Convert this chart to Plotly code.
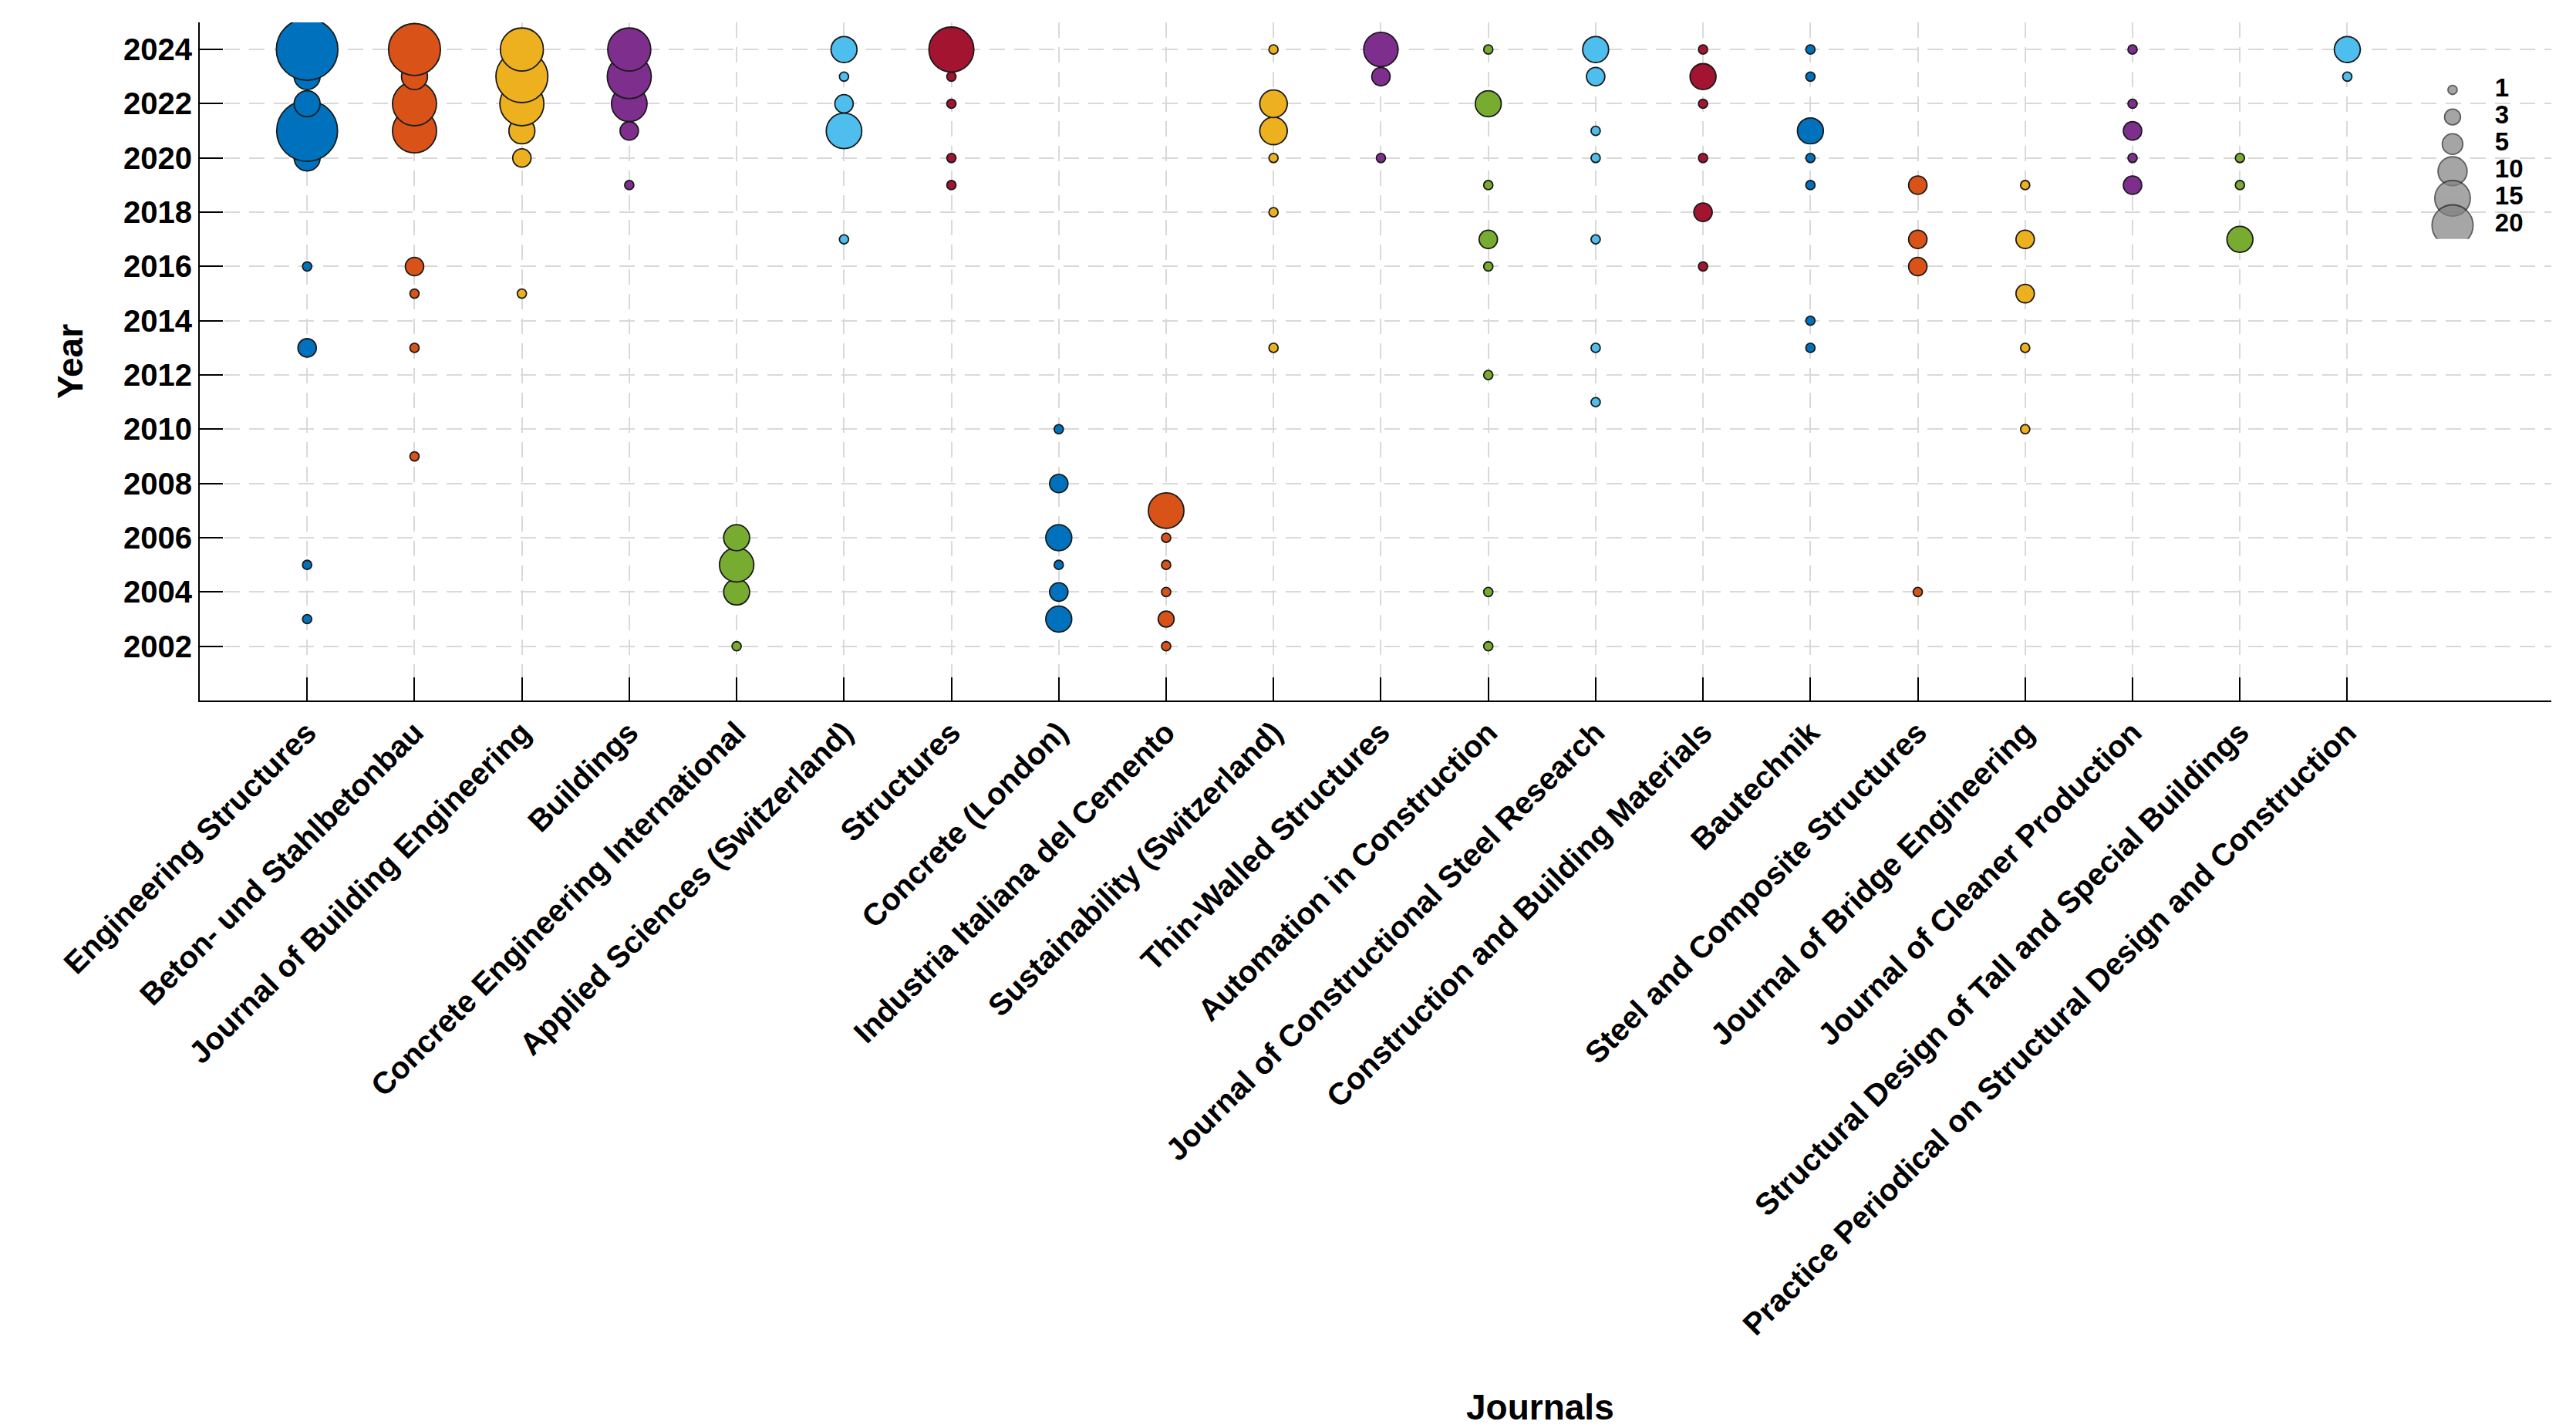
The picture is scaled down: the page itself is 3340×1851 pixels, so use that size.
import plotly.graph_objects as go

# Journale (x-Achse)
journals = [
    "Engineering Structures",
    "Beton- und Stahlbetonbau",
    "Journal of Building Engineering",
    "Buildings",
    "Concrete Engineering International",
    "Applied Sciences (Switzerland)",
    "Structures",
    "Concrete (London)",
    "Industria Italiana del Cemento",
    "Sustainability (Switzerland)",
    "Thin-Walled Structures",
    "Automation in Construction",
    "Journal of Constructional Steel Research",
    "Construction and Building Materials",
    "Bautechnik",
    "Steel and Composite Structures",
    "Journal of Bridge Engineering",
    "Journal of Cleaner Production",
    "Structural Design of Tall and Special Buildings",
    "Practice Periodical on Structural Design and Construction",
]

# Jahre und Anzahl Publikationen pro Journal
years = [
    [2003, 2005, 2013, 2016, 2020, 2021, 2022, 2023, 2024],
    [2009, 2013, 2015, 2016, 2021, 2022, 2023, 2024],
    [2015, 2020, 2021, 2022, 2023, 2024],
    [2019, 2021, 2022, 2023, 2024],
    [2002, 2004, 2005, 2006],
    [2017, 2021, 2022, 2023, 2024],
    [2019, 2020, 2022, 2023, 2024],
    [2003, 2004, 2005, 2006, 2008, 2010],
    [2002, 2003, 2004, 2005, 2006, 2007],
    [2013, 2018, 2020, 2021, 2022, 2024],
    [2020, 2023, 2024],
    [2002, 2004, 2012, 2016, 2017, 2019, 2022, 2024],
    [2011, 2013, 2017, 2020, 2021, 2023, 2024],
    [2016, 2018, 2020, 2022, 2023, 2024],
    [2013, 2014, 2019, 2020, 2021, 2023, 2024],
    [2004, 2016, 2017, 2019],
    [2010, 2013, 2015, 2017, 2019],
    [2019, 2020, 2021, 2022, 2024],
    [2017, 2019, 2020],
    [2023, 2024],
]
counts = [
    [1, 1, 4, 1, 8, 44, 8, 8, 45],
    [1, 1, 1, 4, 23, 23, 8, 32],
    [1, 4, 8, 23, 32, 22],
    [1, 4, 15, 23, 22],
    [1, 8, 14, 8],
    [1, 15, 4, 1, 8],
    [1, 1, 1, 1, 24],
    [8, 4, 1, 8, 4, 1],
    [1, 3, 1, 1, 1, 15],
    [1, 1, 1, 9, 9, 1],
    [1, 4, 14],
    [1, 1, 1, 1, 4, 1, 8, 1],
    [1, 1, 1, 1, 1, 4, 8],
    [1, 4, 1, 1, 8, 1],
    [1, 1, 1, 1, 8, 1, 1],
    [1, 4, 4, 4],
    [1, 1, 4, 4, 1],
    [4, 1, 4, 1, 1],
    [8, 1, 1],
    [1, 8],
]

colors = ["#0072BD", "#D95319", "#EDB120", "#7E2F8E", "#77AC30", "#4DBEEE", "#A2142F"]
legend_sizes = [1, 3, 5, 10, 15, 20]
year_ticks = list(range(2002, 2025, 2))

font = "Liberation Sans"
# Flaeche ~ Anzahl, Durchmesser ~ 11.9 * sqrt(n) px
sizeref = 2.0 / 11.9 ** 2

fig = go.Figure()

for i, name in enumerate(journals):
    fig.add_trace(go.Scatter(
        x=[name] * len(years[i]),
        y=years[i],
        mode="markers",
        name=name,
        marker=dict(
            size=counts[i],
            sizemode="area",
            sizeref=sizeref,
            color=colors[i % len(colors)],
            opacity=1,
            line=dict(color="#1a1a1a", width=1.8),
        ),
        showlegend=False,
    ))

# Groessenlegende (eigene Achsen rechts oben)
legend_labels = [str(s) for s in legend_sizes]
fig.add_trace(go.Scatter(
    x=[0.3] * len(legend_sizes),
    y=legend_labels,
    xaxis="x2",
    yaxis="y2",
    mode="markers",
    marker=dict(size=legend_sizes, sizemode="area", sizeref=sizeref,
                color="#808080", line=dict(color="#1a1a1a", width=1.8)),
    showlegend=False,
    hoverinfo="skip",
))
fig.add_trace(go.Scatter(
    x=[0.6] * len(legend_sizes),
    y=legend_labels,
    xaxis="x2",
    yaxis="y2",
    mode="text",
    text=legend_labels,
    textposition="middle right",
    textfont=dict(family=font, size=33, color="black", weight="bold"),
    showlegend=False,
    hoverinfo="skip",
))

grid = dict(showgrid=True, gridcolor="#d9d9d9", gridwidth=2, griddash="20px,12px")

fig.update_layout(
    width=3340,
    height=1851,
    margin=dict(l=251, r=40, t=21, b=951),
    plot_bgcolor="rgba(0,0,0,0)",
    paper_bgcolor="white",
    font=dict(family=font, color="black"),
    xaxis=dict(
        type="category",
        categoryorder="array",
        categoryarray=journals,
        range=[-1, 20.9],
        tickangle=-45,
        tickfont=dict(size=40, weight="bold"),
        ticks="inside",
        ticklen=30,
        tickwidth=2,
        tickcolor="black",
        showline=True,
        linecolor="black",
        linewidth=2,
        zeroline=False,
        **grid,
    ),
    yaxis=dict(
        range=[2000, 2025],
        tickvals=year_ticks,
        tickfont=dict(size=40, weight="bold"),
        ticks="inside",
        ticklen=30,
        tickwidth=2,
        tickcolor="black",
        showline=True,
        linecolor="black",
        linewidth=2,
        zeroline=False,
        title=dict(text="Year", font=dict(size=46, weight="bold"), standoff=38),
        **grid,
    ),
    xaxis2=dict(domain=[0.94, 1.0], range=[0, 1], anchor="y2", visible=False),
    yaxis2=dict(domain=[0.6807, 0.9204], type="category", range=[5.5, -0.5],
                anchor="x2", visible=False),
    annotations=[dict(
        text="Journals",
        xref="paper", yref="paper",
        x=0.570, y=-1.042,
        xanchor="center", yanchor="middle",
        showarrow=False,
        font=dict(family=font, size=46, color="black", weight="bold"),
    )],
)

fig.write_html("out.html")
